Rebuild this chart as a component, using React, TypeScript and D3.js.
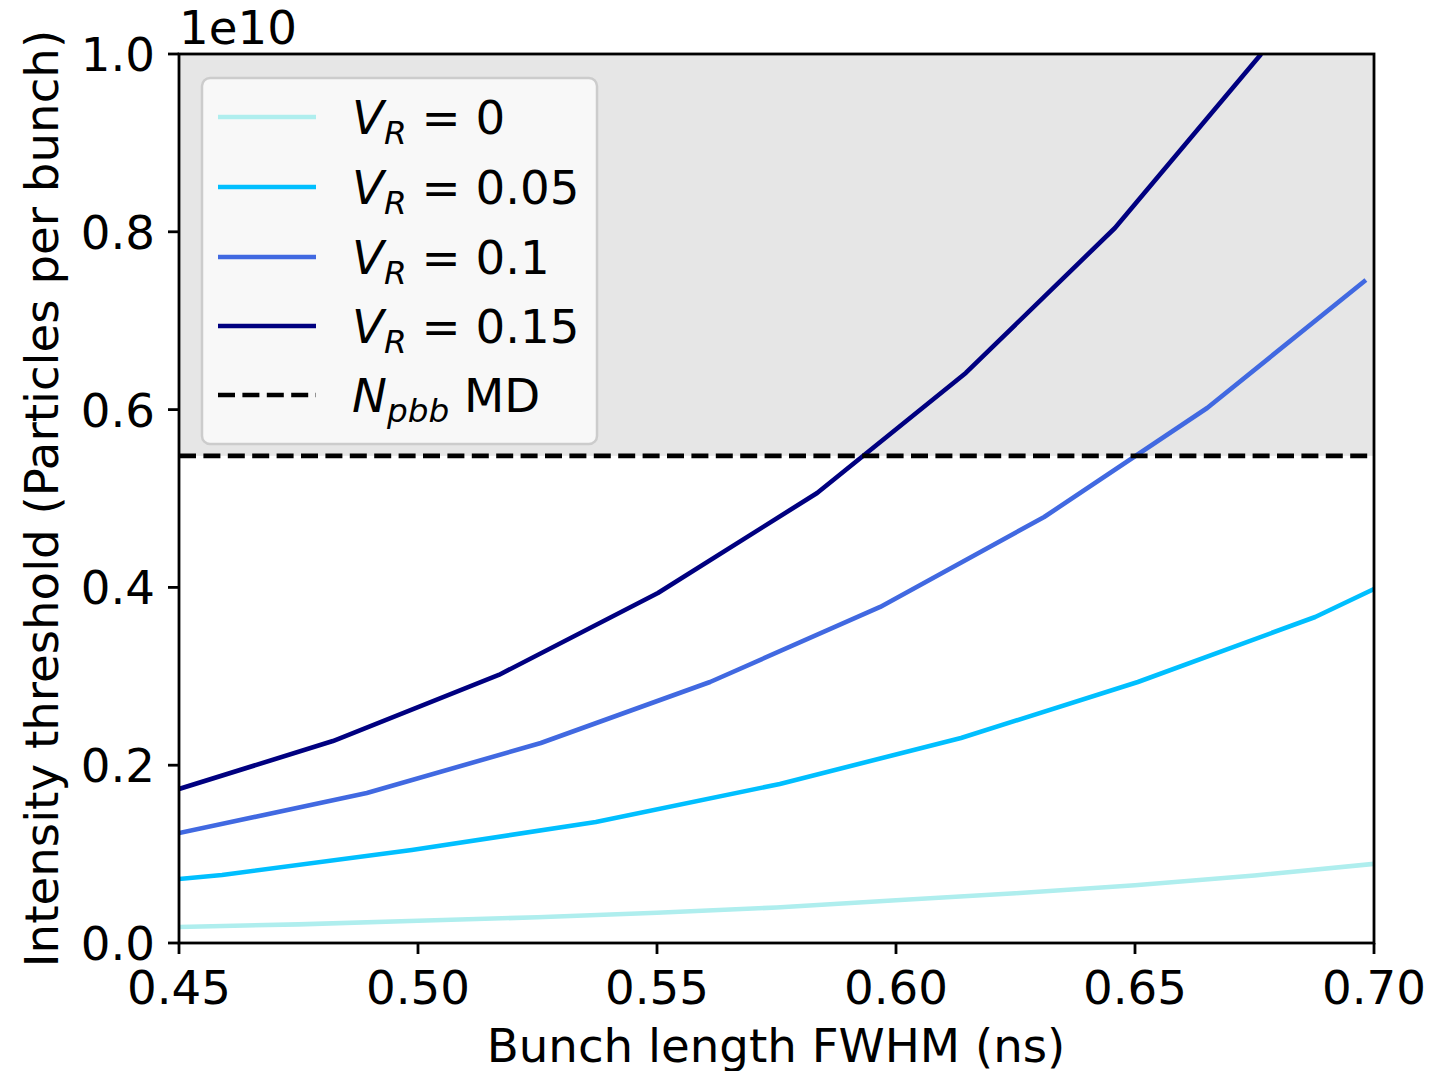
import * as d3 from "d3";

// bunch length FWHM (ns) and intensity threshold (x1e10)
const vr0X = [0.45, 0.475, 0.5, 0.525, 0.55, 0.575, 0.6, 0.625, 0.65, 0.675, 0.7];
const vr0Y = [0.018, 0.021, 0.025, 0.029, 0.034, 0.04, 0.048, 0.056, 0.065, 0.076, 0.089];

const vr005X = [0.45, 0.459, 0.4987, 0.5372, 0.5757, 0.6136, 0.6506, 0.6877, 0.7];
const vr005Y = [0.072, 0.0765, 0.1046, 0.1361, 0.1789, 0.2306, 0.2936, 0.3667, 0.3982];

const vr01X = [0.45, 0.4893, 0.5257, 0.5611, 0.5967, 0.631, 0.6651, 0.6983];
const vr01Y = [0.1237, 0.1687, 0.225, 0.2936, 0.378, 0.4792, 0.6018, 0.7458];

const vr015X = [0.45, 0.4822, 0.5169, 0.5502, 0.5835, 0.6146, 0.6458, 0.6764];
const vr015Y = [0.1732, 0.2272, 0.3015, 0.3937, 0.5062, 0.6412, 0.8043, 1.0];

const npbbMD = 0.548;

const xTicks = [0.45, 0.5, 0.55, 0.6, 0.65, 0.7];
const yTicks = [0, 0.2, 0.4, 0.6, 0.8, 1.0];

const seriesLabels = ["0", "0.05", "0.1", "0.15"];
const seriesColors = ["#afeeee", "#00bfff", "#4169e1", "#000080"];

const series = [
  { xs: vr0X, ys: vr0Y },
  { xs: vr005X, ys: vr005Y },
  { xs: vr01X, ys: vr01Y },
  { xs: vr015X, ys: vr015Y },
];

const W = 1432;
const H = 1071;
const left = 179;
const right = 1374;
const top = 54;
const bottom = 943;
const fs = 46.7;
const lw = 4.6;
const font = "DejaVu Sans, sans-serif";

export default function App() {
  const x = d3.scaleLinear().domain([0.45, 0.7]).range([left, right]);
  const y = d3.scaleLinear().domain([0, 1]).range([bottom, top]);

  const line = d3
    .line<[number, number]>()
    .x((d) => x(d[0]))
    .y((d) => y(d[1]));

  const legendRows = [117, 187, 257, 326, 395];

  return (
    <svg
      width={W}
      height={H}
      style={{ position: "absolute", left: 0, top: 0, background: "#fff" }}
      fontFamily={font}
    >
      <defs>
        <clipPath id="plot">
          <rect x={left} y={top} width={right - left} height={bottom - top} />
        </clipPath>
      </defs>

      {/* shaded region above the MD intensity */}
      <rect
        x={left}
        y={y(1)}
        width={right - left}
        height={y(npbbMD) - y(1)}
        fill="#e6e6e6"
      />

      <g clipPath="url(#plot)">
        {series.map((s, i) => (
          <path
            key={i}
            d={line(s.xs.map((v, j) => [v, s.ys[j]]) as [number, number][]) || ""}
            fill="none"
            stroke={seriesColors[i]}
            strokeWidth={lw}
            strokeLinejoin="round"
          />
        ))}
        <line
          x1={x(0.45)}
          x2={x(0.7)}
          y1={y(npbbMD)}
          y2={y(npbbMD)}
          stroke="#000"
          strokeWidth={lw}
          strokeDasharray="17,7.4"
        />
      </g>

      {/* axes frame */}
      <rect
        x={left}
        y={top}
        width={right - left}
        height={bottom - top}
        fill="none"
        stroke="#000"
        strokeWidth={2.8}
      />

      {xTicks.map((t) => (
        <g key={t}>
          <line x1={x(t)} x2={x(t)} y1={bottom} y2={bottom + 11} stroke="#000" strokeWidth={2.8} />
          <text x={x(t)} y={bottom + 61} textAnchor="middle" fontSize={fs}>
            {t.toFixed(2)}
          </text>
        </g>
      ))}
      {yTicks.map((t) => (
        <g key={t}>
          <line x1={left - 11} x2={left} y1={y(t)} y2={y(t)} stroke="#000" strokeWidth={2.8} />
          <text x={left - 24} y={y(t) + 17} textAnchor="end" fontSize={fs}>
            {t.toFixed(1)}
          </text>
        </g>
      ))}

      <text x={left} y={44} fontSize={fs}>
        1e10
      </text>

      <text x={776} y={1062} textAnchor="middle" fontSize={fs}>
        Bunch length FWHM (ns)
      </text>
      <text
        transform={`translate(58,${(top + bottom) / 2}) rotate(-90)`}
        textAnchor="middle"
        fontSize={fs}
      >
        Intensity threshold (Particles per bunch)
      </text>

      {/* legend */}
      <rect
        x={202}
        y={78}
        width={395}
        height={366}
        rx={8}
        fill="#fafafa"
        fillOpacity={0.85}
        stroke="#cccccc"
        strokeWidth={2.5}
      />
      {seriesLabels.map((lab, i) => (
        <g key={lab}>
          <line
            x1={218}
            x2={316}
            y1={legendRows[i]}
            y2={legendRows[i]}
            stroke={seriesColors[i]}
            strokeWidth={lw}
          />
          <text x={352} y={legendRows[i] + 17} fontSize={fs}>
            <tspan fontStyle="italic">V</tspan>
            <tspan fontStyle="italic" fontSize={fs * 0.7} dy={10}>
              R
            </tspan>
            <tspan dy={-10}>{` = ${lab}`}</tspan>
          </text>
        </g>
      ))}
      <line
        x1={218}
        x2={316}
        y1={legendRows[4]}
        y2={legendRows[4]}
        stroke="#000"
        strokeWidth={lw}
        strokeDasharray="17,7.4"
      />
      <text x={352} y={legendRows[4] + 17} fontSize={fs}>
        <tspan fontStyle="italic">N</tspan>
        <tspan fontStyle="italic" fontSize={fs * 0.7} dy={10}>
          pbb
        </tspan>
        <tspan dy={-10}> MD</tspan>
      </text>
    </svg>
  );
}
